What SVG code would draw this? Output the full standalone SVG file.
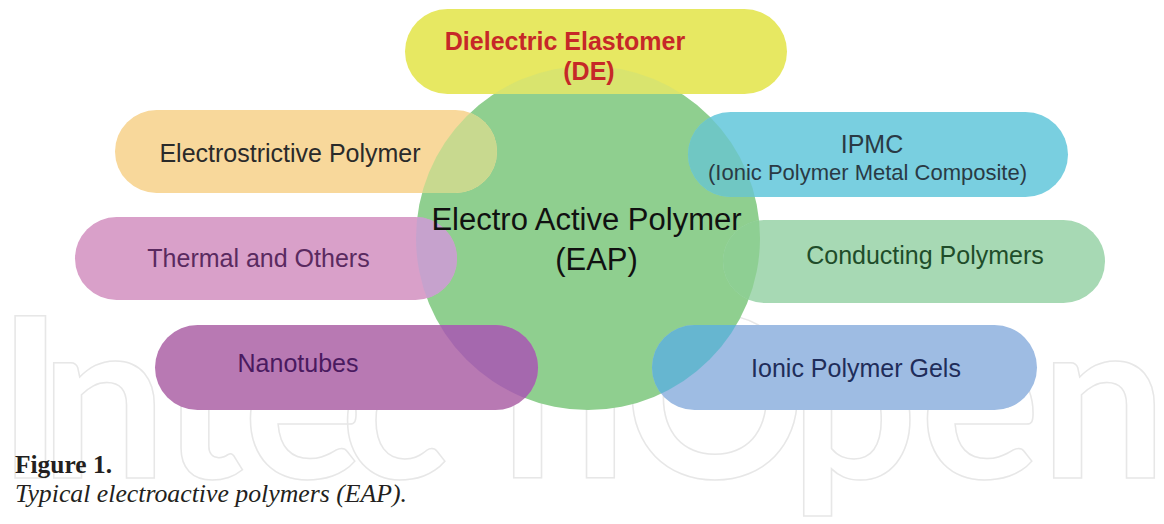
<svg xmlns="http://www.w3.org/2000/svg" width="1164" height="524" viewBox="0 0 1164 524">
  <defs>
    <!-- area covered by the central EAP circle; used to tint where pills cross it -->
    <clipPath id="eapClip">
      <circle cx="588" cy="238" r="172"/>
    </clipPath>
  </defs>
  <style>
    .lbl { font-family: "Liberation Sans", Arial, sans-serif; font-size: 25px; text-anchor: middle; }
    .de { font-weight: bold; font-size: 25px; fill: #c62828; }
    .eap { font-size: 31px; fill: #111111; }
    .sub { font-size: 22px; }
    .mark { font-family: Lato, "Liberation Sans", sans-serif; font-size: 225px; font-weight: bold; fill: none; stroke: #e7e7e7; stroke-width: 1.5; }
    .cap { font-family: "Liberation Serif", "Times New Roman", serif; fill: #231f20; }
    .fig { font-size: 25px; font-weight: bold; }
    .desc { font-size: 26px; font-style: italic; }
  </style>

  <rect width="1164" height="524" fill="#ffffff"/>

  <!-- publisher watermark behind the figure -->
  <text class="mark" y="478" x="-3 40 160 243 340 500 624 790 920 1040">IntechOpen</text>

  <g id="eap">
    <circle cx="588" cy="238" r="172" fill="#8fcf8f"/>
  </g>

  <g id="conducting-polymers">
    <rect x="723" y="220" width="382" height="83" rx="41.5" fill="#a7d9b4"/>
    <rect x="723" y="220" width="382" height="83" rx="41.5" fill="#8ecf93" clip-path="url(#eapClip)"/>
    <text class="lbl" x="925" y="264" fill="#1f4d2a">Conducting Polymers</text>
  </g>

  <g id="dielectric-elastomer">
    <rect x="405" y="9" width="382" height="85" rx="42.5" fill="#e7e862"/>
    <rect x="405" y="9" width="382" height="85" rx="42.5" fill="#d9e46e" clip-path="url(#eapClip)"/>
    <text class="lbl de" x="565" y="50">Dielectric Elastomer</text>
    <text class="lbl de" x="589" y="80">(DE)</text>
  </g>

  <g id="electrostrictive-polymer">
    <rect x="115" y="110" width="382" height="83" rx="41.5" fill="#f8d89b"/>
    <rect x="115" y="110" width="382" height="83" rx="41.5" fill="#c8d98f" clip-path="url(#eapClip)"/>
    <text class="lbl" x="290" y="162" fill="#2a2a2a">Electrostrictive Polymer</text>
  </g>

  <g id="ipmc">
    <rect x="688" y="112" width="380" height="85" rx="42.5" fill="#79cfe0"/>
    <rect x="688" y="112" width="380" height="85" rx="42.5" fill="#70c7c3" clip-path="url(#eapClip)"/>
    <text class="lbl" x="872" y="153" fill="#2a3a45">IPMC</text>
    <text class="lbl sub" x="867.5" y="180" fill="#2a3a45" textLength="319" lengthAdjust="spacingAndGlyphs">(Ionic Polymer Metal Composite)</text>
  </g>

  <g id="thermal-and-others">
    <rect x="75" y="217" width="382" height="83" rx="41.5" fill="#d9a0c9"/>
    <rect x="75" y="217" width="382" height="83" rx="41.5" fill="#c6a2cd" clip-path="url(#eapClip)"/>
    <text class="lbl" x="258.5" y="267" fill="#5a2a60">Thermal and Others</text>
  </g>

  <g id="nanotubes">
    <rect x="155" y="325" width="383" height="85" rx="42.5" fill="#b879b3"/>
    <rect x="155" y="325" width="383" height="85" rx="42.5" fill="#a568ae" clip-path="url(#eapClip)"/>
    <text class="lbl" x="298" y="372" fill="#4a1a60">Nanotubes</text>
  </g>

  <g id="ionic-polymer-gels">
    <rect x="652" y="325" width="385" height="85" rx="42.5" fill="#9ebce3"/>
    <rect x="652" y="325" width="385" height="85" rx="42.5" fill="#66b6d0" clip-path="url(#eapClip)"/>
    <text class="lbl" x="856" y="377" fill="#1f2d5a">Ionic Polymer Gels</text>
  </g>

  <g id="eap-label">
    <text class="lbl eap" x="586.5" y="230">Electro Active Polymer</text>
    <text class="lbl eap" x="596.5" y="270">(EAP)</text>
  </g>

  <!-- caption -->
  <text class="cap fig" x="15" y="473" textLength="97" lengthAdjust="spacingAndGlyphs">Figure 1.</text>
  <text class="cap desc" x="15" y="502" textLength="392" lengthAdjust="spacingAndGlyphs">Typical electroactive polymers (EAP).</text>
</svg>
